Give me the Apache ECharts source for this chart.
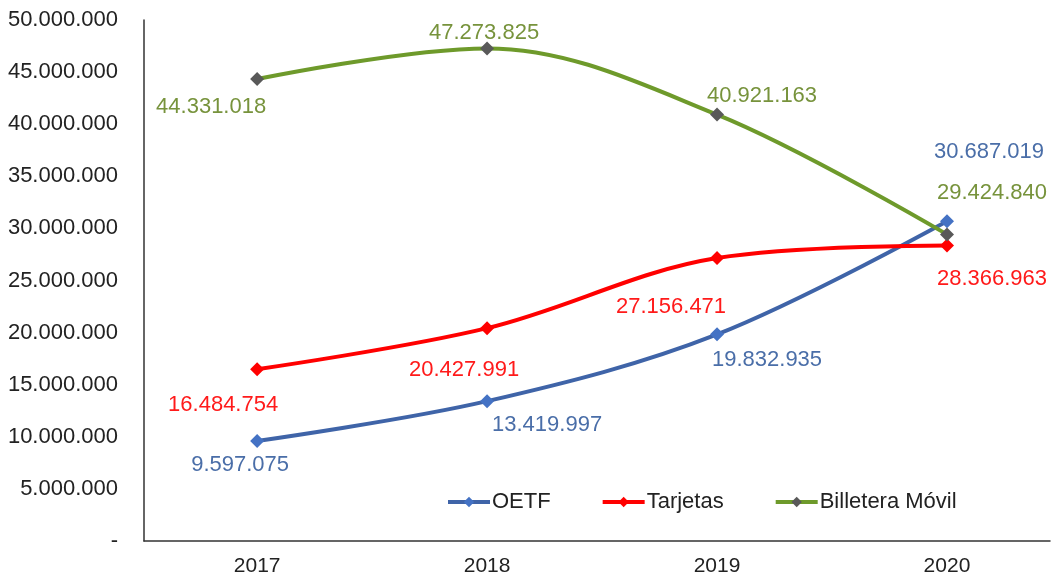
<!DOCTYPE html>
<html>
<head>
<meta charset="utf-8">
<script src="https://cdn.jsdelivr.net/npm/echarts@6/dist/echarts.min.js"></script>
<style>
  html, body { margin: 0; padding: 0; background: #fff; }
  #chart { width: 1052px; height: 577px; }
</style>
</head>
<body>
<div id="chart"></div>
<script>
const years = [2017, 2018, 2019, 2020]
const oetf = [9597075, 13419997, 19832935, 30687019]
const tarjetas = [16484754, 20427991, 27156471, 28366963]
const billetera = [44331018, 47273825, 40921163, 29424840]

// label offsets from each point (style only)
const oetfOffsets = [[-17, 24], [60, 24], [50, 26], [42, -69]]
const tarjetasOffsets = [[-34, 36], [-23, 42], [-46, 49], [45, 34]]
const billeteraOffsets = [[-46, 28], [-3, -15], [45, -19], [45, -41]]

const fmt = v => v.toString().replace(/\B(?=(\d{3})+(?!\d))/g, '.')

const buildData = (vals, offsets) => vals.map((v, i) => ({
  value: [years[i], v],
  label: { offset: offsets[i] }
}))

const makeSeries = (name, vals, offsets, lineColor, markColor, textColor) => ({
  name: name,
  type: 'line',
  smooth: 0.35,
  symbol: 'diamond',
  symbolSize: 14,
  lineStyle: { color: lineColor, width: 4 },
  itemStyle: { color: markColor },
  label: {
    show: true,
    position: 'inside',
    color: textColor,
    fontSize: 22,
    fontFamily: 'Liberation Sans',
    formatter: p => fmt(p.value[1])
  },
  data: buildData(vals, offsets)
})

const chart = echarts.init(document.getElementById('chart'))
chart.setOption({
  animation: false,
  backgroundColor: '#fff',
  textStyle: { fontFamily: 'Liberation Sans' },
  grid: { left: 144, right: 2, top: 20, bottom: 36 },
  legend: {
    left: 441,
    top: 486,
    itemGap: 50,
    itemWidth: 42,
    itemHeight: 13,
    lineStyle: { width: 4 },
    textStyle: { color: '#222', fontSize: 22, fontFamily: 'Liberation Sans', padding: [0, 0, 0, -3] },
    data: ['OETF', 'Tarjetas', 'Billetera Móvil']
  },
  xAxis: {
    type: 'value',
    min: 2016.508,
    max: 2020.448,
    splitLine: { show: false },
    axisTick: { show: false },
    axisLine: { lineStyle: { color: '#333', width: 1.5 } },
    axisLabel: {
      customValues: years,
      color: '#222',
      fontSize: 21,
      margin: 15,
      formatter: v => String(v)
    }
  },
  yAxis: {
    type: 'value',
    min: 0,
    max: 50000000,
    interval: 5000000,
    splitLine: { show: false },
    axisTick: { show: false },
    axisLine: { show: true, lineStyle: { color: '#333', width: 1.5 } },
    axisLabel: {
      color: '#222',
      fontSize: 22,
      margin: 26,
      formatter: v => v === 0 ? '-' : fmt(v)
    }
  },
  series: [
    makeSeries('OETF', oetf, oetfOffsets, '#3F64A8', '#4472C4', '#4A6EA8'),
    makeSeries('Tarjetas', tarjetas, tarjetasOffsets, '#FF0000', '#FF0000', '#FF1A1A'),
    makeSeries('Billetera Móvil', billetera, billeteraOffsets, '#6E9A2B', '#595959', '#77933C')
  ]
})
</script>
</body>
</html>
